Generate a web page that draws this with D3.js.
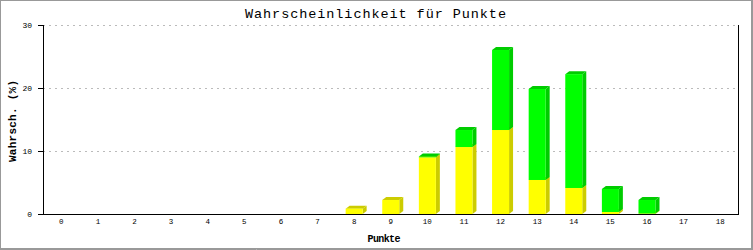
<!DOCTYPE html>
<html><head><meta charset="utf-8">
<script src="https://cdn.jsdelivr.net/npm/d3@7"></script>
<style>body{margin:0;background:#fff}</style>
</head><body>
<svg id="c" width="753" height="250"></svg>
<script>
const categories = ["0","1","2","3","4","5","6","7","8","9","10","11","12","13","14","15","16","17","18"];
const yellowValues = [0,0,0,0,0,0,0,0,0.84,2.22,9.0,10.63,13.33,5.4,4.13,0.32,0.08,0,0];
const greenValues  = [0,0,0,0,0,0,0,0,0,0,0.12,2.7,12.7,14.44,18.07,3.65,2.14,0,0];
const yTicks = [0,10,20,30];

const svg = d3.select("#c");
const L = 43, R = 738.5, T = 25, B = 214;
const x = d3.scaleBand().domain(categories).range([L, R]);
const y = d3.scaleLinear().domain([0,30]).range([B, T]);

svg.append("rect").attr("x",0).attr("y",0).attr("width",753).attr("height",250).attr("fill","#fff");

// grid
svg.append("g").selectAll("line").data(yTicks.filter(d=>d>0)).join("line")
  .attr("x1",L).attr("x2",R).attr("y1",d=>Math.round(y(d))+0.5).attr("y2",d=>Math.round(y(d))+0.5)
  .attr("stroke","#bbb").attr("stroke-dasharray","2,4");

// bars
const dx = 4, dy = 3, bw = 17;
const series = [
  {vals: yellowValues, front: "#ffff00", dark: "#cccc00"},
  {vals: greenValues, front: "#00ff00", dark: "#00cc00"}
];
const gBars = svg.append("g");
categories.forEach((c,i)=>{
  let base = 0;
  series.forEach(s=>{
    const v = s.vals[i];
    if (v <= 0) return;
    const x0 = x(c) + x.bandwidth()/2 - bw/2, x1 = x0 + bw;
    const yb = y(base), yt = y(base+v);
    gBars.append("path").attr("d",`M${x1},${yt}L${x1+dx},${yt-dy}L${x1+dx},${yb-dy}L${x1},${yb}Z`).attr("fill",s.dark);
    gBars.append("path").attr("d",`M${x0},${yt}L${x0+dx},${yt-dy}L${x1+dx},${yt-dy}L${x1},${yt}Z`).attr("fill",s.dark);
    gBars.append("rect").attr("x",x0).attr("y",yt).attr("width",bw).attr("height",Math.max(0.5,yb-yt)).attr("fill",s.front);
    base += v;
  });
});

// axes
svg.append("line").attr("x1",L).attr("x2",R+0.5).attr("y1",B+0.5).attr("y2",B+0.5).attr("stroke","#000");
svg.append("line").attr("x1",L+0.5).attr("x2",L+0.5).attr("y1",T).attr("y2",B+1).attr("stroke","#000");
svg.append("line").attr("x1",R).attr("x2",R).attr("y1",T).attr("y2",B+1).attr("stroke","#000");

svg.append("g").selectAll("line").data(yTicks).join("line")
  .attr("x1",L-5).attr("x2",L).attr("y1",d=>Math.round(y(d))+0.5).attr("y2",d=>Math.round(y(d))+0.5).attr("stroke","#000");
svg.append("g").selectAll("text").data(yTicks).join("text")
  .attr("x",32).attr("y",d=>y(d)+3).attr("text-anchor","end")
  .attr("font-family","Liberation Mono").attr("font-size","8px").text(d=>d);

svg.append("g").selectAll("text").data(categories).join("text")
  .attr("x",d=>x(d)+x.bandwidth()/2).attr("y",224).attr("text-anchor","middle")
  .attr("font-family","Liberation Mono").attr("font-size","7.5px").text(d=>d);

// title & labels
svg.append("text").attr("x",375.5).attr("y",18).attr("text-anchor","middle")
  .attr("font-family","Liberation Mono").attr("font-size","13.5px")
  .attr("textLength",261).attr("lengthAdjust","spacing").text("Wahrscheinlichkeit für Punkte");
svg.append("text").attr("x",384).attr("y",242).attr("text-anchor","middle")
  .attr("font-family","Liberation Mono").attr("font-weight","bold").attr("font-size","10px")
  .attr("textLength",33).attr("lengthAdjust","spacing").text("Punkte");
svg.append("text").attr("transform","translate(16,121) rotate(-90)").attr("text-anchor","middle")
  .attr("font-family","Liberation Mono").attr("font-weight","bold").attr("font-size","11px")
  .attr("textLength",82).attr("lengthAdjust","spacing").text("Wahrsch. (%)");

// frame
svg.append("rect").attr("x",0.5).attr("y",0.5).attr("width",751).attr("height",248).attr("fill","none").attr("stroke","#999");
svg.append("line").attr("x1",752.5).attr("x2",752.5).attr("y1",0).attr("y2",250).attr("stroke","#999");
svg.append("line").attr("x1",0).attr("x2",753).attr("y1",249.5).attr("y2",249.5).attr("stroke","#999");
</script>
</body></html>
